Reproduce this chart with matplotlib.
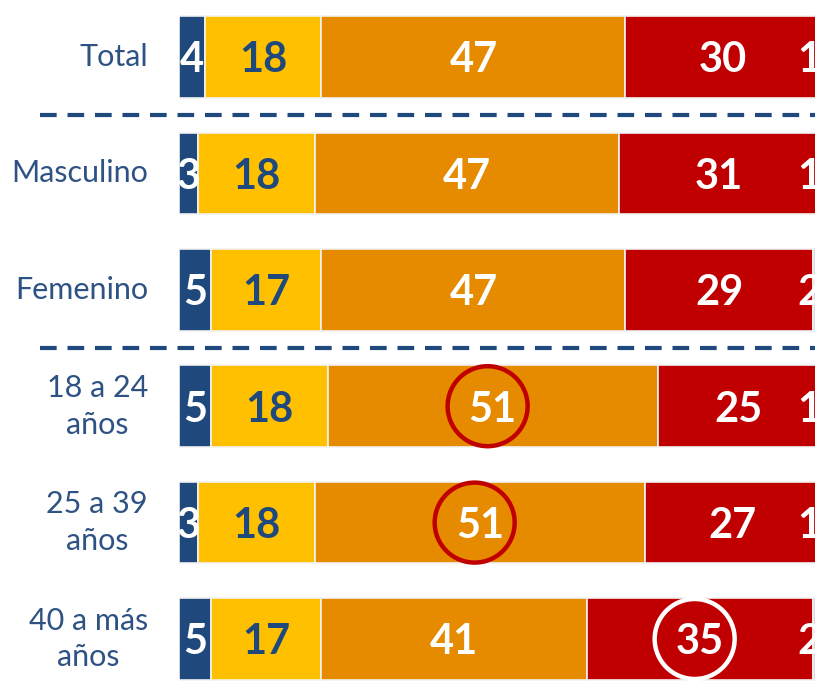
import matplotlib
matplotlib.use("Agg")
import matplotlib.pyplot as plt
from matplotlib.patches import Ellipse
import numpy as np

categories = ["Total", "Masculino", "Femenino", "18 a 24\naños", "25 a 39\naños", "40 a más\naños"]
seg1 = [4, 3, 5, 5, 3, 5]
seg2 = [18, 18, 17, 18, 18, 17]
seg3 = [47, 47, 47, 51, 51, 41]
seg4 = [30, 31, 29, 25, 27, 35]
seg5 = [1, 1, 2, 1, 1, 2]

series = [seg1, seg2, seg3, seg4, seg5]
colors = ["#1F497D", "#FFC000", "#E68A00", "#C00000", "#D9D9D9"]
text_colors = ["white", "#1F497D", "white", "white", "white"]

# highlighted cells: (row, series index, circle colour)
highlights = [(3, 2, "#C00000"), (4, 2, "#C00000"), (5, 3, "white")]

W, H = 815, 681
fig = plt.figure(figsize=(W / 100, H / 100), dpi=100)
ax = fig.add_axes([179 / W, 0, 636 / W, 1])

px_per_unit_x = 6.47
px_per_unit_y = 116.4
xmax = 636 / px_per_unit_x
ax.set_xlim(0, xmax)
ax.set_ylim(5 + (681 - 639) / px_per_unit_y, -57 / px_per_unit_y)
ax.axis("off")

y = np.arange(len(categories))
left = np.zeros(len(categories))
num_font = dict(family=["Lato", "DejaVu Sans"], fontweight="bold", fontsize=30)
for k, (vals, c, tc) in enumerate(zip(series, colors, text_colors)):
    vals = np.array(vals, dtype=float)
    ax.barh(y, vals, left=left, height=0.7, color=c, edgecolor="#F2F2F2", linewidth=1.2)
    for i in range(len(categories)):
        if k < 4:
            xc = left[i] + vals[i] / 2
            ax.text(xc, y[i] + 0.03, f"{int(vals[i])}", ha="center", va="center", color=tc, **num_font)
        else:
            ax.text(95.6, y[i] + 0.03, f"{int(vals[i])}", ha="left", va="center", color=tc,
                    clip_on=False, **num_font)
    left = left + vals

# highlight circles
r_px = 40
cum = np.cumsum(np.array(series), axis=0)
for row, k, col in highlights:
    start = cum[k - 1][row] if k > 0 else 0
    xc = start + series[k][row] / 2 - 0.8
    e = Ellipse((xc, y[row]), 2 * r_px / px_per_unit_x, 2 * r_px / px_per_unit_y,
                fill=False, edgecolor=col, linewidth=3.2, zorder=5)
    ax.add_patch(e)

# dashed separators
x0 = (40 - 179) / px_per_unit_x
for ys in [0.5, 2.5]:
    ax.plot([x0, xmax], [ys, ys], color="#1F497D", linewidth=3, dashes=(4, 2.6),
            clip_on=False, solid_capstyle="butt", dash_capstyle="butt")

# category labels
for i, cat in enumerate(categories):
    ax.text(-31 / px_per_unit_x, y[i], cat, ha="right", va="center", multialignment="center",
            color="#2E5283", fontsize=22, family=["Lato", "DejaVu Sans"], linespacing=1.38,
            clip_on=False)

fig.savefig("out.png", dpi=100)
